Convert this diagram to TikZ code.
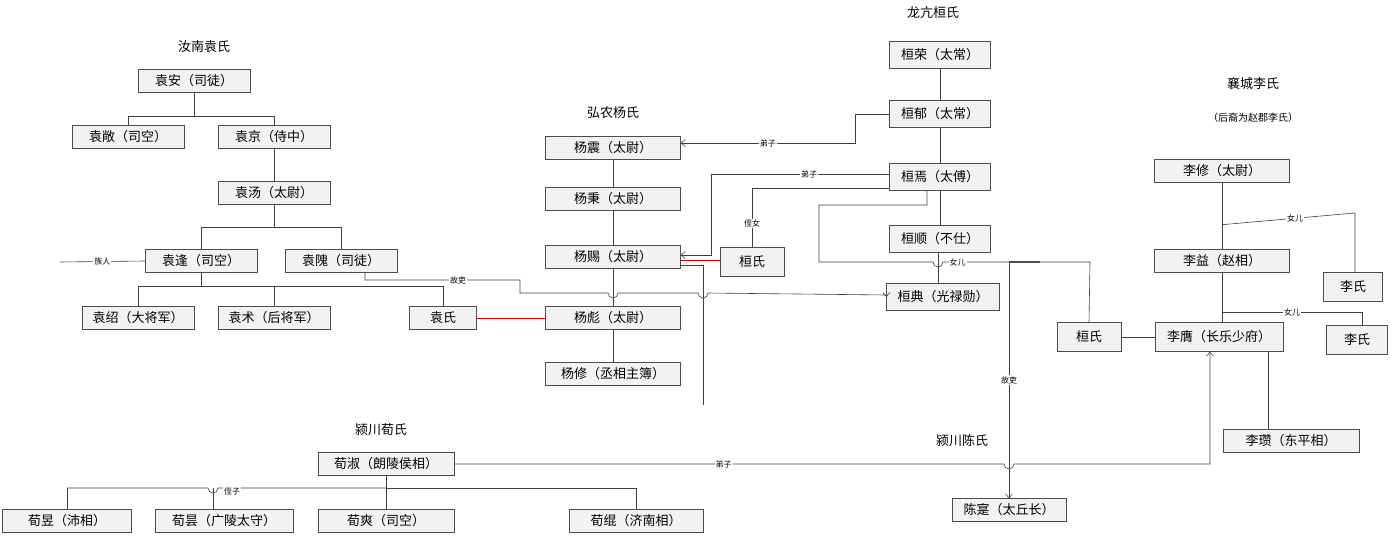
\documentclass[tikz,border=0pt]{standalone}
\usepackage{fontspec}
\newfontfamily\cjk{Noto Sans CJK SC}
\usetikzlibrary{arrows.meta}
\begin{document}
\begin{tikzpicture}[x=1pt,y=-1pt,
 box/.style={draw=black!70,fill=gray!10,font=\cjk\fontsize{13}{15}\selectfont,inner sep=0pt,minimum height=23pt},
 ttl/.style={font=\cjk\fontsize{13}{15}\selectfont},
 lbl/.style={font=\cjk\fontsize{8}{9}\selectfont,fill=white,inner sep=1pt},
 ln/.style={draw=black!75,line width=0.6pt},
 arr/.style={ln,-{Straight Barb[length=4pt,width=7pt]}},
 red/.style={draw=red!80!black,line width=0.7pt}]
\useasboundingbox (0,0) rectangle (1395,538);
% titles
\node[ttl] (t1) at (204,47) {汝南袁氏};
\node[ttl] (t2) at (613,113) {弘农杨氏};
\node[ttl] (t3) at (933,13) {龙亢桓氏};
\node[ttl] (t4) at (1253,84) {襄城李氏};
\node[font=\cjk\fontsize{10}{12}\selectfont] (t5) at (1253,118) {（后裔为赵郡李氏）};
\node[ttl] (t6) at (381,430) {颍川荀氏};
\node[ttl] (t7) at (962,441) {颍川陈氏};
% Yuan
\node[box,minimum width=112pt] (ya) at (194,81) {袁安（司徒）};
\node[box,minimum width=112pt] (yc) at (128,137) {袁敞（司空）};
\node[box,minimum width=112pt] (yj) at (274,137) {袁京（侍中）};
\node[box,minimum width=112pt] (yt) at (274,193) {袁汤（太尉）};
\node[box,minimum width=112pt] (yf) at (201,261) {袁逢（司空）};
\node[box,minimum width=112pt] (yw) at (341,261) {袁隗（司徒）};
\node[box,minimum width=112pt] (ys) at (138,318) {袁绍（大将军）};
\node[box,minimum width=112pt] (yu) at (274,318) {袁术（后将军）};
\node[box,minimum width=67pt] (yshi) at (443,318) {袁氏};
% Yang
\node[box,minimum width=135pt] (gz) at (613,148) {杨震（太尉）};
\node[box,minimum width=135pt] (gb) at (613,199) {杨秉（太尉）};
\node[box,minimum width=135pt] (gc) at (613,257) {杨赐（太尉）};
\node[box,minimum width=135pt] (gbi) at (613,318) {杨彪（太尉）};
\node[box,minimum width=135pt] (gx) at (613,374) {杨修（丞相主簿）};
% Huan
\node[box,minimum width=101pt,minimum height=27pt] (hr) at (940,55) {桓荣（太常）};
\node[box,minimum width=101pt,minimum height=27pt] (hy) at (940,114) {桓郁（太常）};
\node[box,minimum width=101pt,minimum height=27pt] (hn) at (940,177) {桓焉（太傅）};
\node[box,minimum width=101pt,minimum height=27pt] (hs) at (940,239) {桓顺（不仕）};
\node[box,minimum width=113pt,minimum height=27pt] (hd) at (943,297) {桓典（光禄勋）};
\node[box,minimum width=64pt,minimum height=29pt] (hl) at (752,262) {桓氏};
\node[box,minimum width=64pt,minimum height=29pt] (hrr) at (1089,337) {桓氏};
% Li
\node[box,minimum width=135pt] (lx) at (1222,171) {李修（太尉）};
\node[box,minimum width=135pt] (lyi) at (1222,261) {李益（赵相）};
\node[box,minimum width=59pt,minimum height=29pt] (ls1) at (1353,287) {李氏};
\node[box,minimum width=61pt,minimum height=29pt] (ls2) at (1357,340) {李氏};
\node[box,minimum width=128pt,minimum height=29pt] (lyg) at (1219,337) {李膺（长乐少府）};
\node[box,minimum width=136pt] (lz) at (1291,441) {李瓒（东平相）};
% Xun
\node[box,minimum width=136pt] (xs) at (386,464) {荀淑（朗陵侯相）};
\node[box,minimum width=129pt] (xy) at (67,521) {荀昱（沛相）};
\node[box,minimum width=138pt] (xt) at (224,521) {荀昙（广陵太守）};
\node[box,minimum width=136pt] (xsh) at (386,521) {荀爽（司空）};
\node[box,minimum width=134pt] (xg) at (636,521) {荀绲（济南相）};
\node[box,minimum width=114pt] (cs) at (1009,510) {陈寔（太丘长）};
% Yuan connectors
\draw[ln] (ya.south) -- ++(0,24) -| (yc.north);
\draw[ln] (ya.south) ++(0,24) -| (yj.north);
\draw[ln] (yj) -- (yt);
\draw[ln] (yt.south) -- ++(0,23) -| (yf.north);
\draw[ln] (yt.south) ++(0,23) -| (yw.north);
\coordinate (zr) at (60,262);
\draw[ln] (zr) -- node[lbl]{族人} (yf.west);
\draw[ln] (yf.south) -- ++(0,14) -| (ys.north);
\draw[ln] (yf.south) ++(0,14) -| (yu.north);
\draw[ln] (yf.south) ++(0,14) -| (yshi.north);
\draw[arr] (yw.south -| 365,0) |- (520,280) node[lbl,pos=0.8]{故吏} -- (520,293)
  -- (608,293) arc[start angle=180,end angle=0,radius=5] -- (698,293)
  arc[start angle=180,end angle=0,radius=5] -- (hd.west |- 0,295) -- (hd.west);
\draw[red] (yshi) -- (gbi);
% Yang
\draw[ln] (gz) -- (gb);
\draw[ln] (gb) -- (gc);
\draw[ln] (gc) -- (gbi);
\draw[ln] (gbi) -- (gx);
\coordinate (ye) at (703,405);
\draw[ln] (gc.east |- 0,265) -| (ye);
% Huan
\draw[ln] (hr) -- (hy);
\draw[ln] (hy) -- (hn);
\draw[ln] (hn) -- (hs);
\draw[arr] (hy.west) -| (855,143) -- node[lbl]{弟子} (gz.east |- 0,143);
\draw[arr] (hn.west |- 0,174) -- node[lbl,pos=0.45]{弟子} (711,174) |- (gc.east |- 0,255);
\draw[ln] (hn.west |- 0,188) -| node[lbl,pos=0.8]{侄女} (hl.north);
\draw[red] (hl.west |- 0,260) -- (gc.east |- 0,260);
\draw[ln] (hs.south -| 938,0) -- (hd.north -| 938,0);
\draw[ln] (927,190.5) |- (819,205) |- (933,262) arc[start angle=180,end angle=0,radius=5] -- node[lbl,pos=0.1]{女儿} (1090,262) -- (hrr.north);
\coordinate (gl) at (1009,262);
\draw[line width=1.6pt,black!70] (gl) -- (1040,262);
\draw[arr] (gl) -- node[lbl]{故吏} (cs.north);
\draw[red] (hrr) -- (lyg);
% Li
\draw[ln] (lx.south) -- (lyi.north);
\draw[ln] (lyi.south) -- (lyg.north -| lyi.south);
\draw[ln] (lx.south) ++(0,42) -- node[lbl,pos=0.55]{女儿} (1355,213) -- (ls1.north -| 1355,0);
\draw[ln] (1222,312) -- node[lbl,pos=0.5]{女儿} (1362,312) -- (ls2.north -| 1362,0);
\draw[ln] (lyg.south -| 1268,0) -- (lz.north -| 1268,0);
% Xun
\draw[arr] (xs.east) -- node[lbl,pos=0.49]{弟子} (1004,464) arc[start angle=180,end angle=0,radius=5] -- (1210,464) -- (lyg.south -| 1210,0);
\draw[ln] (xs.south) -- ++(0,13) -| (xg.north);
\draw[ln] (xs.south) -- (xsh.north);
\draw[ln] (67,488) -- (208,488) arc[start angle=180,end angle=0,radius=5] -- (xs.south |- 0,488);
\node[lbl] (lz2) at (232,491) {侄子};
\draw[ln] (67,488) -- (xy.north -| 67,0);
\draw[ln] (213,488) -- (xt.north -| 213,0);
\end{tikzpicture}
\end{document}
